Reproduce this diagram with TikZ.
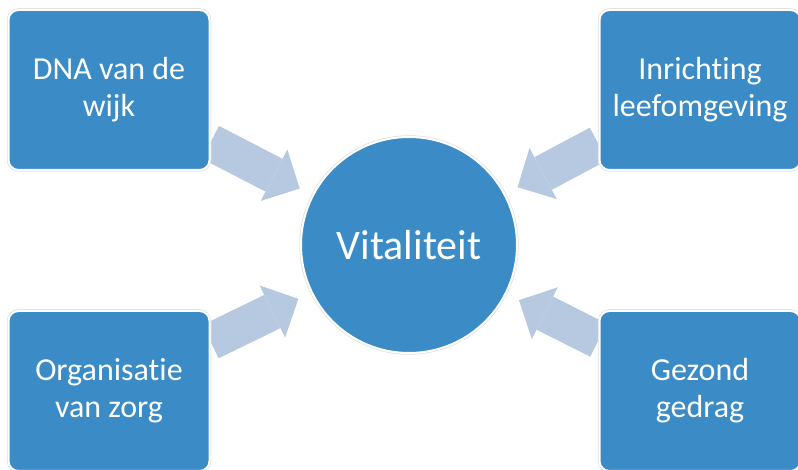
\documentclass[tikz,border=0pt]{standalone}
\usepackage{fontspec}
\setmainfont{Carlito}[Ligatures=NoCommon]
\usepackage{tikz}
\usetikzlibrary{arrows.meta,backgrounds}
\definecolor{boxblue}{RGB}{58,139,198}
\definecolor{arrowblue}{RGB}{182,201,225}

\begin{document}
\begin{tikzpicture}[x=1pt,y=1pt]
  \tikzstyle{box}=[rectangle, rounded corners=10pt, fill=boxblue, draw=white, line width=2pt,
preaction={draw=black!12, line width=3.5pt}, text=white, minimum width=201pt,
minimum height=160pt, align=center, font=\fontsize{32}{37}\selectfont]
  \tikzstyle{hub}=[circle, fill=boxblue, draw=white, line width=2pt,
preaction={draw=black!12, line width=3.5pt}, text=white,
minimum size=216pt, font=\fontsize{42}{50}\selectfont]
  \tikzstyle{pointer}=[arrowblue, line width=37pt, shorten >=14pt,
-{Triangle[width=58pt,length=29pt,line width=0pt]}]
  \useasboundingbox (0,0) rectangle (798,470);
  \node[hub] (V) at (409,225) {Vitaliteit};
  \node[box] (B_1) at (109,380) {DNA van de\\wijk};
  \node[box] (B_2) at (700,380) {Inrichting\\leefomgeving};
  \node[box] (B_3) at (109,79) {Organisatie\\van zorg};
  \node[box] (B_4) at (700,79) {Gezond\\gedrag};

  \begin{scope}[on background layer]
  \draw[pointer] (B_1) -- (V);
  \draw[pointer] (B_2) -- (V);
  \draw[pointer] (B_3) -- (V);
  \draw[pointer] (B_4) -- (V);
  \end{scope}
\end{tikzpicture}
\end{document}
